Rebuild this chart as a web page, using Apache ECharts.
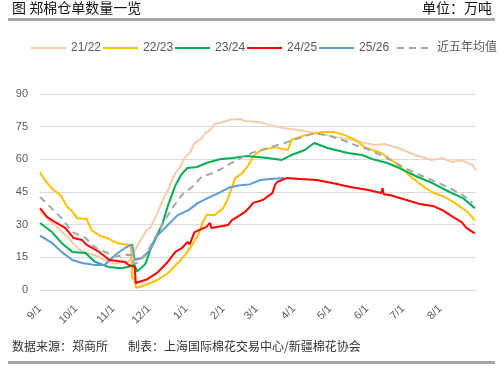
<!DOCTYPE html>
<html>
<head>
<meta charset="utf-8">
<script src="https://cdn.jsdelivr.net/npm/echarts@6/dist/echarts.min.js"></script>
<style>html,body{margin:0;padding:0;background:#fff;}#c{width:501px;height:372px;}</style>
</head>
<body>
<div id="c"></div>
<script>
// Season calendar: Sept 1 .. Aug 31
var months = [9, 10, 11, 12, 1, 2, 3, 4, 5, 6, 7, 8];
var monthDays = [30, 31, 30, 31, 31, 28, 31, 30, 31, 30, 31, 31];
var yTicks = [0, 15, 30, 45, 60, 75, 90];
var seriesNames = ['21/22', '22/23', '23/24', '24/25', '25/26', '近五年均值'];

// [day of season (0 = 9/1), 万吨]
var s2122 = [[0,36],[8,32],[17,27.5],[25,23],[33,18.4],[40,17],[48,15.5],[55,13.5],[63,12],[68,13],[74,13],[77,15.5],[80,19],[83,22],[89,27.5],[92,28.5],[98,35.3],[103,42],[107,46],[110,50.5],[113,53.5],[117,56.5],[121,61],[125,62.9],[129,67.5],[134,69],[138,72],[142,73.4],[146,76.2],[150,76.7],[160,78.3],[167,78.5],[171,77.6],[184,77],[192,75.7],[203,74.4],[217,73.4],[231,72],[248,70.2],[261,68.9],[271,67.5],[280,66.6],[288,67],[299,65.2],[313,62],[327,59.7],[336,60.5],[344,58.8],[352,59.5],[361,57.4],[364,55]];
var s2223 = [[0,54],[4,50.5],[11,46],[17,43.6],[23,38],[27,36],[31,33],[39,32.6],[43,27.5],[50,25],[58,23.4],[64,21.6],[70,21],[76,20.5],[77,5.5],[79,5],[80,1],[84,1.5],[88,2.3],[98,4.6],[107,7.8],[115,12.4],[121,16],[127,20.7],[132,25.3],[136,31.2],[139,34.4],[146,34.4],[149,35.8],[153,37.6],[157,42.2],[160,46.8],[163,51.4],[169,53.7],[174,57.4],[179,62],[184,64],[196,65.6],[207,64.3],[210,69],[221,71],[235,72.5],[246,72.5],[255,71],[263,69],[271,65.6],[285,62.9],[299,57.4],[311,51.4],[319,48],[327,45],[338,42.7],[349,39],[357,35.8],[363,32]];
var s2324 = [[0,30.8],[10,26.6],[18,21.6],[27,17.5],[38,17],[46,12.9],[57,10.6],[68,10],[73,10.6],[79,11.5],[81,8.5],[88,12],[93,20],[102,30],[107,39],[113,48],[118,53],[123,56],[131,56.5],[139,58.3],[150,60],[161,60.6],[173,61.5],[190,60.6],[202,59.7],[210,62],[221,64.3],[229,67.5],[240,65.2],[257,62.9],[269,62],[278,60],[290,58.3],[300,56],[315,52],[328,49],[342,45],[353,42.2],[363,37.6]];
var s2425 = [[0,37.6],[6,33.5],[13,31],[21,28.5],[28,23.9],[35,23],[39,20.7],[48,18],[58,13.8],[71,12.9],[74,11.5],[79,10.6],[80,3.2],[89,4.8],[98,8],[106,12.5],[113,17.5],[119,19.5],[123,22],[125,21],[129,26.6],[139,29],[142,30.8],[143,28.5],[157,29.8],[160,32],[171,35.8],[175,38],[178,40],[186,41.3],[194,44.5],[196,48],[198,49.6],[206,51.4],[217,51],[231,50.5],[245,49],[259,47.3],[273,46],[285,44.5],[286,46.8],[287,44],[292,43.6],[306,41.3],[317,39.5],[328,38.6],[336,36.7],[345,33.5],[352,31.2],[356,28.5],[363,26]];
var s2526 = [[0,25],[10,21.6],[18,17.5],[27,13.8],[35,12.4],[46,11.5],[54,11.5],[60,14.7],[65,17],[71,19.3],[77,21],[79,13.8],[85,14.7],[92,18.4],[98,25],[107,30],[115,34.4],[124,36.7],[132,40],[140,42.2],[149,44.5],[157,46.8],[165,48],[175,48.5],[184,50.5],[192,51],[204,51.4]];
var sAvg = [[0,42.7],[8,38.5],[18,33],[27,26.6],[38,23.9],[46,19.5],[56,17],[65,15.5],[73,16.2],[77,16],[78,12.4],[81,12.4],[88,16],[96,24],[103,31],[111,38],[119,44],[127,47.3],[135,52],[146,54],[157,57.4],[169,61],[179,63.4],[190,65.2],[204,67.5],[219,70.2],[229,72],[240,71],[252,69],[263,66.6],[274,64.5],[290,60.6],[303,56.5],[317,52.8],[331,49.6],[342,46.8],[353,43.6],[361,40]];

var categories = [];
months.forEach(function (m, i) {
  for (var d = 1; d <= monthDays[i]; d++) categories.push(m + '/' + d);
});

var colors = ['#F8CBAD', '#FFC000', '#00B050', '#FF0000', '#5B9BD5', '#A6A6A6'];
var seriesData = [s2122, s2223, s2324, s2425, s2526, sAvg];
var zs = [1, 2, 3, 5, 4, 6];

var series = seriesNames.map(function (n, i) {
  return {
    name: n, type: 'line', data: seriesData[i], showSymbol: false, symbol: 'none',
    z: zs[i],
    lineStyle: { color: colors[i], width: 2, type: i === 5 ? [7, 5] : 'solid' },
    itemStyle: { color: colors[i] },
    animation: false
  };
});

function isMonthStart(val) { return /\/1$/.test(val); }

var font = '"Noto Sans CJK SC", "Liberation Sans", sans-serif';
var legendText = { color: '#595959', fontSize: 12, fontFamily: '"Liberation Sans", "Noto Sans CJK SC", sans-serif' };
var legendBase = { top: 42, padding: 0, itemWidth: 35, itemHeight: 12, itemGap: 1, itemStyle: { opacity: 0 }, textStyle: legendText };

var chart = echarts.init(document.getElementById('c'), null, { renderer: 'canvas' });
chart.setOption({
  backgroundColor: '#fff',
  animation: false,
  textStyle: { fontFamily: font },
  grid: { left: 40, right: 25, top: 94, bottom: 82, containLabel: false },
  legend: [
    Object.assign({ data: seriesNames.slice(0, 5), left: 30 }, legendBase),
    Object.assign({ data: seriesNames.slice(5), left: 396 }, legendBase)
  ],
  xAxis: {
    type: 'category', data: categories, boundaryGap: false,
    axisLine: { show: false }, axisTick: { show: false },
    axisLabel: {
      interval: function (idx, val) { return isMonthStart(val); },
      formatter: function (val) { return isMonthStart(val) ? val : ''; },
      hideOverlap: false,
      rotate: 45, margin: 17, color: '#595959', fontSize: 11,
      fontFamily: '"Liberation Sans", sans-serif'
    },
    splitLine: { show: false }
  },
  yAxis: {
    type: 'value', min: yTicks[0], max: yTicks[yTicks.length - 1], interval: 15,
    axisLine: { show: false }, axisTick: { show: false },
    axisLabel: { color: '#595959', fontSize: 11, margin: 12, fontFamily: '"Liberation Sans", sans-serif' },
    splitLine: { lineStyle: { color: '#D9D9D9', width: 1 } }
  },
  graphic: [
    { type: 'text', left: 12, top: 1, style: { text: '图 郑棉仓单数量一览', fill: '#111', font: '14px ' + font } },
    { type: 'text', right: 9, top: 1, style: { text: '单位：万吨', fill: '#111', font: '14px ' + font } },
    { type: 'rect', shape: { x: 8, y: 18, width: 487, height: 3 }, style: { fill: '#A6A6A6' } },
    { type: 'text', left: 12, top: 340, style: { text: '数据来源：郑商所', fill: '#333', font: '12px ' + font } },
    { type: 'text', left: 128, top: 340, style: { text: '制表：上海国际棉花交易中心/新疆棉花协会', fill: '#333', font: '12px ' + font } },
    { type: 'rect', shape: { x: 8, y: 361, width: 487, height: 3 }, style: { fill: '#A6A6A6' } }
  ],
  series: series
});
</script>
</body>
</html>
